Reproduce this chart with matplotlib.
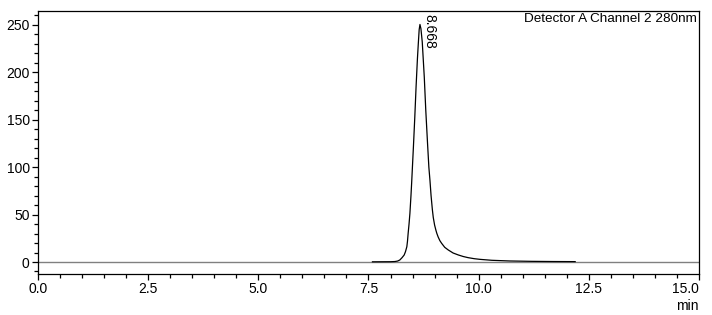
import matplotlib
matplotlib.use("Agg")
import matplotlib.pyplot as plt
from matplotlib.ticker import MultipleLocator, FormatStrFormatter

plt.rcParams['font.family'] = ['Liberation Sans', 'DejaVu Sans']

# chromatogram (time in min, signal)
time_min = [7.59, 8.00, 8.10, 8.16, 8.21, 8.26, 8.31, 8.34, 8.37, 8.385,
            8.40, 8.42, 8.44, 8.464, 8.48, 8.50, 8.52, 8.55, 8.58, 8.61,
            8.63, 8.65, 8.668, 8.69, 8.72, 8.766, 8.80, 8.84, 8.87, 8.895,
            8.92, 8.95, 8.97, 9.00, 9.03, 9.05, 9.08, 9.12, 9.16, 9.23,
            9.31, 9.42, 9.54, 9.65, 9.76, 9.90, 10.03, 10.30, 10.70, 11.20,
            11.70, 12.19]
signal = [0.2, 0.3, 0.5, 1.0, 2.1, 4.5, 7.4, 11.0, 16.1, 22.0,
          30.3, 40.0, 51.4, 70.0, 84.0, 103.0, 122.0, 152.0, 185.0, 214.0,
          230.0, 245.0, 250.5, 246.0, 232.0, 195.0, 160.0, 125.0, 100.0, 86.0,
          70.0, 55.0, 47.0, 39.0, 33.5, 30.3, 26.5, 22.5, 19.7, 15.5,
          12.7, 9.5, 7.4, 5.8, 4.6, 3.5, 2.8, 1.8, 1.1, 0.7,
          0.5, 0.4]

peak_label = "8.668"
detector_label = "Detector A Channel 2 280nm"

fig = plt.figure(figsize=(7.12, 3.15), dpi=100)
ax = fig.add_axes([0.0534, 0.130, 0.9283, 0.836])

# baseline
ax.plot([0, 15], [0, 0], color='#808080', lw=1.0, zorder=1)
ax.plot(time_min, signal, color='black', lw=0.9, zorder=2)

ax.text(8.88, 262, peak_label, rotation=-90, ha='center', va='top', fontsize=10)
ax.text(0.997, 0.992, detector_label, transform=ax.transAxes,
        ha='right', va='top', fontsize=9.7)
ax.text(1.0, -0.122, 'min', transform=ax.transAxes, ha='right', va='center', fontsize=10)

ax.set_xlim(0, 15)
ax.set_ylim(-12.7, 265)
ax.xaxis.set_major_locator(MultipleLocator(2.5))
ax.xaxis.set_minor_locator(MultipleLocator(0.5))
ax.yaxis.set_major_locator(MultipleLocator(50))
ax.yaxis.set_minor_locator(MultipleLocator(10))
ax.xaxis.set_major_formatter(FormatStrFormatter('%.1f'))
ax.tick_params(which='major', length=4, width=0.9, labelsize=10, pad=2)
ax.tick_params(which='minor', length=3, width=0.9)
for s in ax.spines.values():
    s.set_linewidth(0.9)

# last x label kept inside the figure
fig.canvas.draw()
for lab in ax.get_xticklabels():
    if lab.get_text() == '15.0':
        lab.set_horizontalalignment('right')

fig.savefig('out.png', dpi=100)
